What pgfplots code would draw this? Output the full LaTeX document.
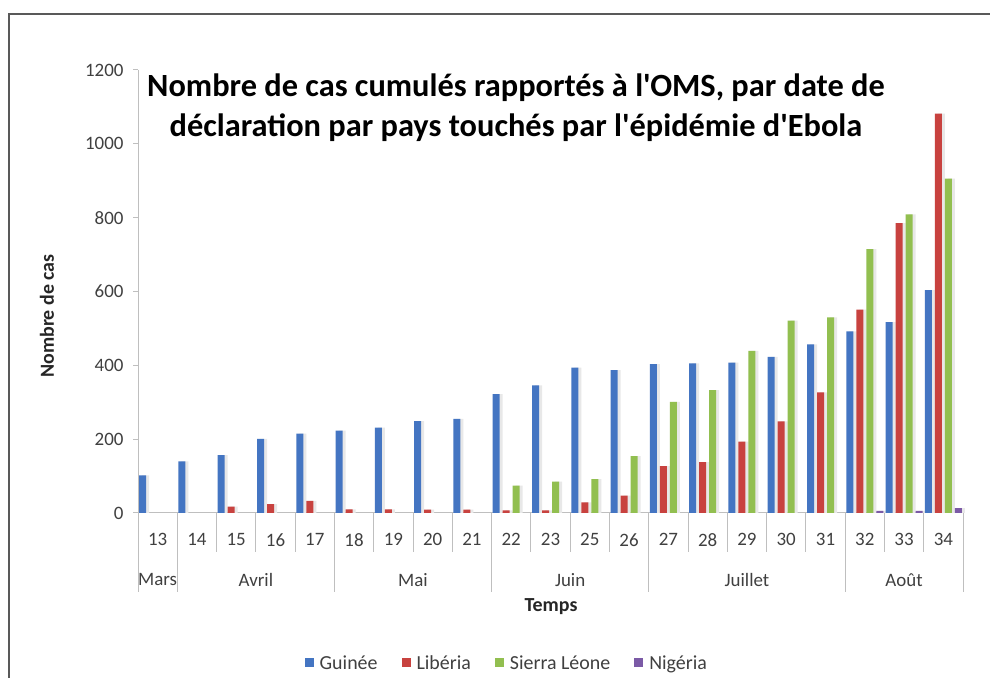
\documentclass[border=0pt]{standalone}
\usepackage{pgfplots}
\usepackage{pgfplotstable}
\pgfplotsset{compat=1.18}
\usepackage{fontspec}
\setmainfont{Carlito}
\newfontfamily\calfont{Carlito}
\definecolor{cblue}{HTML}{4475C2}
\definecolor{cred}{HTML}{C8423F}
\definecolor{cgreen}{HTML}{92BF50}
\definecolor{cpurple}{HTML}{7B5AA6}
\definecolor{txt}{HTML}{404040}
\definecolor{axgray}{HTML}{BFBFBF}
\pgfplotstableread{
x g l s n
0 102 nan nan nan
1 140 nan nan nan
2 157 17 nan nan
3 201 24 nan nan
4 215 33 nan nan
5 223 10 nan nan
6 231 10 nan nan
7 249 9 nan nan
8 255 9 nan nan
9 322 7 74 nan
10 346 7 85 nan
11 394 29 92 nan
12 387 47 154 nan
13 403 127 301 nan
14 405 138 333 nan
15 407 193 439 nan
16 423 248 521 nan
17 457 327 530 nan
18 492 551 715 6
19 517 785 809 6
20 604 1082 906 13
}\data
\begin{document}
\calfont
\begin{tikzpicture}[x=1bp,y=1bp]
\useasboundingbox (0,0) rectangle (990,678);
\fill[white] (0,0) rectangle (990,678);
\draw[line width=2bp, color=black!65] (9,0) -- (9,664) -- (990,664);
\begin{axis}[
  at={(138bp,165bp)}, anchor=south west,
  scale only axis, width=825bp, height=443bp,
  xmin=-0.5, xmax=20.5, ymin=0, ymax=1200,
  axis lines*=left,
  axis line style={draw=axgray, line width=1bp},
  ytick={0,200,...,1200},
  xtick={0,...,20},
  xticklabels={13,14,15,16,17,18,19,20,21,22,23,25,26,27,28,29,30,31,32,33,34},
  xtick style={draw=none},
  ytick style={draw=axgray, line width=1bp},
  tick align=outside, major tick length=5bp,
  /pgf/number format/assume math mode=true,
  /pgf/number format/1000 sep={},
  yticklabel style={font=\fontsize{19}{21}\selectfont, text=txt, xshift=-6bp},
  xticklabel style={font=\fontsize{19}{21}\selectfont, text=txt, yshift=-12bp},
  ybar, bar width=7bp,
  clip=false,
  legend style={at={(0.447,-0.3386)}, anchor=center, draw=none, fill=none,
    legend columns=4, font=\fontsize{20}{22}\selectfont, text=txt,
    /tikz/every odd column/.append style={column sep=4bp},
    /tikz/every even column/.append style={column sep=22bp}},
  legend image code/.code={\fill[#1] (0bp,-4.5bp) rectangle (9bp,4.5bp);},
]
% shadows
\addplot[fill=black!9, draw=none, bar shift=-12bp, forget plot] table[x=x,y=g]{\data};
\addplot[fill=black!9, draw=none, bar shift=-2bp, forget plot] table[x=x,y=l]{\data};
\addplot[fill=black!9, draw=none, bar shift=8bp, forget plot] table[x=x,y=s]{\data};
\addplot[fill=black!9, draw=none, bar shift=18bp, forget plot] table[x=x,y=n]{\data};
% bars
\addplot[fill=cblue, draw=none, bar shift=-15bp] table[x=x,y=g]{\data};
\addplot[fill=cred, draw=none, bar shift=-5bp] table[x=x,y=l]{\data};
\addplot[fill=cgreen, draw=none, bar shift=5bp] table[x=x,y=s]{\data};
\addplot[fill=cpurple, draw=none, bar shift=15bp] table[x=x,y=n]{\data};
\legend{Guinée,Libéria,Sierra Léone,Nigéria}
% category separators
\pgfplotsinvokeforeach{0.5,1.5,2.5,3.5,5.5,6.5,7.5,9.5,10.5,11.5,13.5,14.5,15.5,16.5,18.5,19.5}
  {\draw[axgray, line width=1bp] (axis cs:#1,0) -- ([yshift=-39bp]axis cs:#1,0);}
\pgfplotsinvokeforeach{-0.5,0.5,4.5,8.5,12.5,17.5,20.5}
  {\draw[axgray, line width=1bp] (axis cs:#1,0) -- ([yshift=-79bp]axis cs:#1,0);}
\node[font=\fontsize{19}{21}\selectfont, text=txt] at ([yshift=-67bp]axis cs:0,0) {Mars};
\node[font=\fontsize{19}{21}\selectfont, text=txt] at ([yshift=-67bp]axis cs:2.5,0) {Avril};
\node[font=\fontsize{19}{21}\selectfont, text=txt] at ([yshift=-67bp]axis cs:6.5,0) {Mai};
\node[font=\fontsize{19}{21}\selectfont, text=txt] at ([yshift=-67bp]axis cs:10.5,0) {Juin};
\node[font=\fontsize{19}{21}\selectfont, text=txt] at ([yshift=-67bp]axis cs:15,0) {Juillet};
\node[font=\fontsize{19}{21}\selectfont, text=txt] at ([yshift=-67bp]axis cs:19,0) {Août};
\end{axis}
\node[font=\fontsize{20}{22}\selectfont\bfseries, text=black!85] at (551,71) {Temps};
\node[font=\fontsize{20}{22}\selectfont\bfseries, text=black!85, rotate=90] at (47,362) {Nombre de cas};
\node[font=\fontsize{32.5}{40}\selectfont\bfseries, align=center, text=black] at (516,570) {Nombre de cas cumulés rapportés à l'OMS, par date de\\déclaration par pays touchés par l'épidémie d'Ebola};
\end{tikzpicture}
\end{document}
